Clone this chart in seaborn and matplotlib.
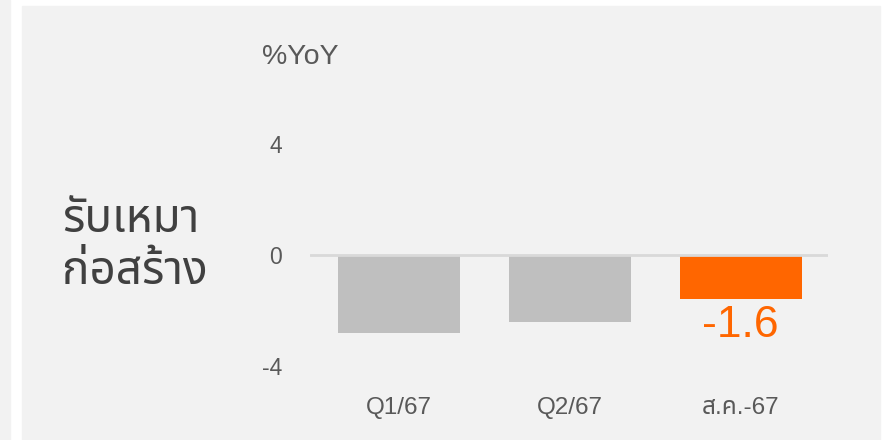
import matplotlib
matplotlib.use("Agg")
import matplotlib.pyplot as plt
import seaborn as sns
from matplotlib.patches import Rectangle

# data
categories = ["Q1/67", "Q2/67", "ส.ค.-67"]
yoy = [-2.8, -2.4, -1.6]
bar_colors = ["#bfbfbf", "#bfbfbf", "#ff6600"]
y_ticks = [-4, 0, 4]
unit_label = "%YoY"
title_label = "รับเหมา\nก่อสร้าง"

sns.set_style("white")
plt.rcParams["font.family"] = ["Liberation Sans", "Noto Sans Thai", "Anuphan", "Kanit", "DejaVu Sans"]
thai_fonts = ["Noto Sans Thai", "Anuphan", "Kanit", "DejaVu Sans"]

fig = plt.figure(figsize=(8.82, 4.4), dpi=100, facecolor="white")
W, H = 882, 440

# grey panel and left strip (behind the axes)
fig.patches.append(Rectangle((22 / W, 0), (880 - 22) / W, (H - 6) / H,
                             transform=fig.transFigure, color="#f2f2f2", zorder=-5))
fig.patches.append(Rectangle((0, 0), 10 / W, 1,
                             transform=fig.transFigure, color="#f2f2f2", zorder=-5))

ax = fig.add_axes([310 / W, (H - 366) / H, 518 / W, 222 / H])
ax.set_facecolor("none")

sns.barplot(x=categories, y=yoy, hue=categories, palette=bar_colors,
            width=0.71, saturation=1, legend=False, linewidth=0, ax=ax, zorder=2)
ax.axhline(0, color="#d9d9d9", lw=2, zorder=3)

ax.set_xlim(-0.52, 2.51)
ax.set_ylim(-4, 4)
ax.set_yticks(y_ticks)
ax.set_yticklabels([str(t) for t in y_ticks])
ax.tick_params(axis="y", length=0, pad=20, labelsize=16.5, labelcolor="#595959")
ax.tick_params(axis="x", length=0, pad=22, labelsize=17.5, labelcolor="#595959")
sns.despine(ax=ax, left=True, bottom=True)

# value label for the last bar
ax.text(2, yoy[2] - 0.2, f"{yoy[2]:.1f}", ha="center", va="top",
        fontsize=32, color="#ff6600")

fig.text(262 / W, 1 - 57 / H, unit_label, ha="left", va="center",
         fontsize=20.5, color="#595959")
fig.text(62 / W, 1 - 246 / H, title_label, ha="left", va="center",
         fontsize=33, color="#404040", family=thai_fonts, linespacing=1.15)

fig.savefig("out.png", dpi=100, facecolor="white")
